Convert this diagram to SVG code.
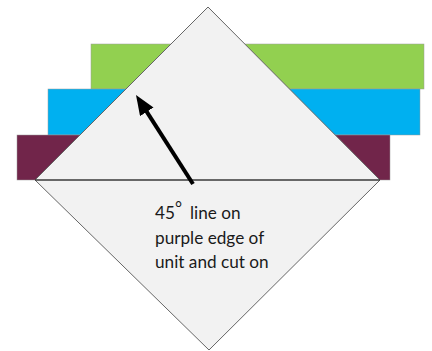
<svg xmlns="http://www.w3.org/2000/svg" width="432" height="351" viewBox="0 0 432 351">
<style>
.bar{stroke:#9a9a9a;stroke-width:0.5}
.lbl{font-family:Lato,"Open Sans","Liberation Sans",sans-serif;font-size:17.2px;fill:#1a1a1a}
</style>
<defs>
<marker id="ah" markerWidth="5" markerHeight="4" refX="2.5" refY="2" orient="auto" markerUnits="strokeWidth">
<path d="M0,0 L5,2 L0,4 Z" fill="#000"/>
</marker>
</defs>
<rect width="432" height="351" fill="#fff"/>
<g id="bars">
<rect id="green" class="bar" x="91" y="44" width="333" height="45" fill="#92d050"/>
<rect id="blue" class="bar" x="48" y="89" width="372" height="46" fill="#00b0f0"/>
<rect id="purple" class="bar" x="17" y="135" width="373" height="45" fill="#71254a"/>
</g>
<g id="diamond">
<polygon points="208,7 380,180 209,350 35,180" fill="#f2f2f2" stroke="#666" stroke-width="1"/>
<line x1="35" y1="180" x2="380" y2="180" stroke="#3a3a3a" stroke-width="1.5"/>
</g>
<g id="connectors">
<line x1="193" y1="184" x2="141.4" y2="103.4" stroke="#000" stroke-width="4" marker-end="url(#ah)"/>
</g>
<g id="label">
<text class="lbl" x="155" y="219">45<tspan x="175" y="214" font-size="17">°</tspan><tspan x="190" y="219">line on</tspan></text>
<text class="lbl" x="155" y="244">purple edge of</text>
<text class="lbl" x="155" y="268">unit and cut on</text>
</g>
</svg>
